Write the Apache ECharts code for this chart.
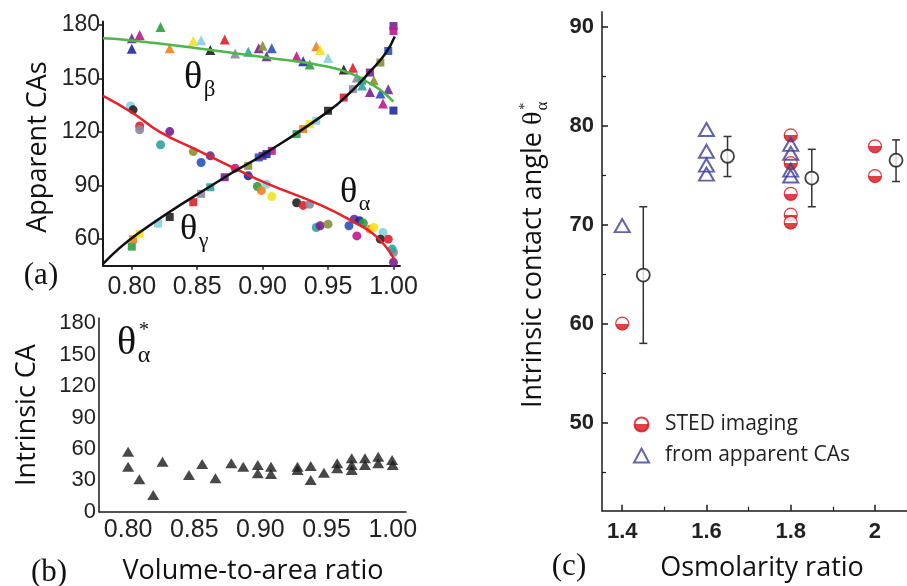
<!DOCTYPE html>
<html>
<head>
<meta charset="utf-8">
<script src="https://cdn.jsdelivr.net/npm/echarts@6/dist/echarts.min.js"></script>
<style>
  html, body { margin: 0; padding: 0; background: #fff; }
  #chart { width: 907px; height: 586px; }
</style>
</head>
<body>
<div id="chart"></div>
<script>
// ---- Panel (a): apparent contact angles vs volume-to-area ratio
const thetaBeta = [
  [0.800, 172.5], [0.806, 174.4], [0.800, 166.6], [0.822, 178.8], [0.829, 167],
  [0.847, 171], [0.853, 171.4], [0.860, 165.9], [0.871, 171.8], [0.879, 164],
  [0.889, 165], [0.897, 167], [0.900, 168.3], [0.907, 167], [0.903, 162.4],
  [0.926, 162.4], [0.931, 159.6], [0.936, 157.8], [0.941, 168], [0.944, 166],
  [0.950, 161.5], [0.962, 155], [0.969, 156], [0.972, 150.5], [0.976, 146],
  [0.982, 142.4], [0.985, 149], [0.990, 141.5], [0.996, 144], [0.992, 136]
];
const thetaGamma = [
  [0.800, 55.7], [0.801, 59.8], [0.806, 62.9], [0.820, 68.6], [0.829, 72.3],
  [0.847, 80.6], [0.853, 85.3], [0.860, 89], [0.871, 94.6], [0.889, 101],
  [0.897, 105.7], [0.900, 106.6], [0.907, 109.4], [0.903, 107.6], [0.926, 118.8],
  [0.931, 121.6], [0.936, 124.4], [0.941, 126.3], [0.950, 131.9], [0.962, 139.3],
  [0.969, 144], [0.976, 148.7], [0.982, 153.3], [0.990, 158.9], [0.996, 165.4],
  [1.000, 179.4], [1.000, 176.6], [1.000, 132]
];
const thetaAlpha = [
  [0.799, 134.6], [0.801, 132.4], [0.806, 123.4], [0.806, 121.2], [0.822, 112.8],
  [0.829, 120.2], [0.847, 109], [0.853, 102.9], [0.860, 106.6], [0.879, 99.7],
  [0.889, 95.4], [0.896, 89.4], [0.899, 87.2], [0.907, 83.8], [0.903, 90.7],
  [0.926, 80.3], [0.931, 78.8], [0.936, 79.4], [0.941, 66.4], [0.944, 67.4],
  [0.950, 68.3], [0.966, 67.4], [0.970, 71.1], [0.972, 61.7], [0.974, 70.2],
  [0.977, 68.9], [0.982, 65.5], [0.985, 66.4], [0.992, 63.6], [0.990, 59.9],
  [0.996, 59.9], [1.000, 52.4], [0.999, 54.3], [1.000, 46.9]
];
// fitted curves
const fitBeta = [[0.778, 172.5], [0.80, 171.3], [0.85, 167], [0.90, 162], [0.95, 156.6], [0.97, 152], [0.98, 148], [0.99, 143.5], [1.0, 137]];
const fitAlpha = [[0.778, 140.2], [0.801, 130.5], [0.821, 120.2], [0.85, 109.8], [0.881, 98.7], [0.903, 91.2], [0.944, 79.1], [0.969, 69.7], [0.987, 61.3], [1.001, 48.2]];
const fitGamma = [[0.778, 46], [0.805, 63.2], [0.872, 95], [0.900, 107.1], [0.950, 131.4], [0.969, 143.6], [0.982, 153.8], [0.994, 164.1], [1.001, 173.5]];
const ticksA_x = [0.80, 0.85, 0.90, 0.95, 1.00];
const ticksA_y = [60, 90, 120, 150, 180];

// ---- Panel (b): intrinsic contact angle
const intrinsicB = [
  [0.800, 57.3], [0.800, 43], [0.8085, 31], [0.819, 16], [0.826, 47.8],
  [0.846, 35], [0.856, 45.6], [0.866, 31.9], [0.878, 46.2], [0.887, 43],
  [0.898, 44.6], [0.898, 36.7], [0.908, 43], [0.908, 36], [0.928, 43],
  [0.928, 39.8], [0.938, 43.6], [0.938, 30.3], [0.948, 37.3], [0.958, 46.2],
  [0.958, 41.4], [0.969, 51], [0.969, 44.6], [0.969, 39.8], [0.979, 51],
  [0.979, 44.6], [0.989, 52.6], [0.989, 46.2], [0.9995, 49.4], [1.000, 44.6]
];
const ticksB_y = [0, 30, 60, 90, 120, 150, 180];

// ---- Panel (c): intrinsic contact angle vs osmolarity ratio
const stedImaging = [[1.4, 60], [1.8, 79], [1.8, 76.2], [1.8, 73.1], [1.8, 71], [1.8, 70.2], [2.0, 77.9], [2.0, 74.9]];
const fromApparent = [[1.4, 69.9], [1.6, 79.6], [1.6, 77.4], [1.6, 76], [1.6, 75.1], [1.8, 78.1], [1.8, 77.2], [1.8, 75.5], [1.8, 74.9]];
const meanX = [1.45, 1.65, 1.85, 2.05];
const meanY = [64.9, 76.9, 74.7, 76.5];
const errLow = [58, 74.85, 71.8, 74.35];
const errHigh = [71.8, 78.9, 77.6, 78.55];
const ticksC_x = [1.4, 1.6, 1.8, 2.0];
const minorC_x = [1.5, 1.7, 1.9];
const ticksC_y = [50, 60, 70, 80, 90];
const minorC_y = [45, 55, 65, 75, 85];

const palette = ['#6a2c91', '#c2188b', '#1f2a9c', '#2e9e3e', '#f08024', '#f2e21a', '#86d2dc',
  '#222222', '#e0202e', '#8a8aa0', '#2fa3a0', '#7a1f8f', '#8b8f3a', '#2b4fc4'];
const ink = '#1a1a1a';
const sans = 'Liberation Sans';
const title = 'Open Sans';
const serif = 'Liberation Serif';
const stedRed = '#d4141c';
const triBlue = '#3c3c96';

const chart = echarts.init(document.getElementById('chart'));

// width of a text, for placing the sub/superscripts after the rotated label
const measure = (text, font) => {
  const ctx = document.createElement('canvas').getContext('2d');
  ctx.font = font;
  return ctx.measureText(text).width;
};

const axisLine = (w) => ({ show: true, onZero: false, lineStyle: { color: ink, width: w } });
const noSplit = { show: false };

const xA = {
  gridIndex: 0, type: 'value', min: 0.778, max: 1.005,
  axisLine: axisLine(2), splitLine: noSplit,
  axisTick: { show: true, customValues: ticksA_x, length: 4, lineStyle: { color: ink, width: 1.5 } },
  axisLabel: { customValues: ticksA_x, formatter: (v) => v.toFixed(2), fontFamily: sans, fontSize: 25, color: '#222', margin: 9 }
};
const yA = {
  gridIndex: 0, type: 'value', min: 45, max: 182,
  axisLine: axisLine(2), splitLine: noSplit,
  axisTick: { show: true, customValues: ticksA_y, length: 4, lineStyle: { color: ink, width: 1.5 } },
  axisLabel: { customValues: ticksA_y, fontFamily: sans, fontSize: 23, color: '#222', margin: 3 }
};
const xB = {
  gridIndex: 1, type: 'value', min: 0.778, max: 1.01,
  axisLine: axisLine(1.5), splitLine: noSplit,
  axisTick: { show: false },
  axisLabel: { customValues: ticksA_x, formatter: (v) => v.toFixed(2), fontFamily: sans, fontSize: 25, color: '#222', margin: 6 }
};
const yB = {
  gridIndex: 1, type: 'value', min: 0, max: 185,
  axisLine: axisLine(1.5), splitLine: noSplit,
  axisTick: { show: false },
  axisLabel: { customValues: ticksB_y, fontFamily: sans, fontSize: 22, color: '#222', margin: 3 }
};
const xC = {
  gridIndex: 2, type: 'value', min: 1.352, max: 2.076,
  axisLine: axisLine(1.5), splitLine: noSplit,
  axisTick: { show: true, inside: true, customValues: ticksC_x, length: 6, lineStyle: { color: ink, width: 1.5 } },
  axisLabel: { customValues: ticksC_x, formatter: (v) => (v === 2 ? '2' : v.toFixed(1)), fontFamily: sans, fontWeight: 'bold', fontSize: 22, color: '#222', margin: 10 }
};
const xCminor = {
  gridIndex: 2, type: 'value', min: 1.352, max: 2.076, position: 'bottom',
  axisLine: { show: false }, splitLine: noSplit, axisLabel: { show: false },
  axisTick: { show: true, inside: true, customValues: minorC_x, length: 4, lineStyle: { color: ink, width: 1.2 } }
};
const yC = {
  gridIndex: 2, type: 'value', min: 41.1, max: 91.5,
  axisLine: axisLine(1.5), splitLine: noSplit,
  axisTick: { show: true, inside: true, customValues: ticksC_y, length: 6, lineStyle: { color: ink, width: 1.5 } },
  axisLabel: { customValues: ticksC_y, fontFamily: sans, fontWeight: 'bold', fontSize: 22, color: '#222', margin: 8 }
};
const yCminor = {
  gridIndex: 2, type: 'value', min: 41.1, max: 91.5, position: 'left',
  axisLine: { show: false }, splitLine: noSplit, axisLabel: { show: false },
  axisTick: { show: true, inside: true, customValues: minorC_y, length: 4, lineStyle: { color: ink, width: 1.2 } }
};

const pointColor = (p) => palette[p.dataIndex % palette.length];

// error bars of the mean values in panel (c)
const errorBars = meanX.map((x, i) => [x, errLow[i], errHigh[i]]);
const renderErrorBar = (params, api) => {
  const lo = api.coord([api.value(0), api.value(1)]);
  const hi = api.coord([api.value(0), api.value(2)]);
  const cap = 4;
  const style = { stroke: '#333', lineWidth: 1.5 };
  return {
    type: 'group',
    children: [
      { type: 'line', shape: { x1: lo[0], y1: lo[1], x2: hi[0], y2: hi[1] }, style },
      { type: 'line', shape: { x1: lo[0] - cap, y1: lo[1], x2: lo[0] + cap, y2: lo[1] }, style },
      { type: 'line', shape: { x1: hi[0] - cap, y1: hi[1], x2: hi[0] + cap, y2: hi[1] }, style }
    ]
  };
};

const stedFill = new echarts.graphic.LinearGradient(0, 0, 0, 1, [
  { offset: 0, color: stedRed }, { offset: 0.12, color: '#ffffff' },
  { offset: 0.5, color: '#ffffff' }, { offset: 0.5, color: stedRed }, { offset: 1, color: stedRed }
]);

// sub/superscripted theta labels
const thetaLabel = (x, y, sub, size, sup) => {
  const els = [
    { type: 'text', x: x, y: y, style: { text: 'θ', font: size + 'px ' + serif, fill: '#111', textAlign: 'left', textVerticalAlign: 'middle' } },
    { type: 'text', x: x + size * 0.52, y: y + size * 0.32, style: { text: sub, font: Math.round(size * 0.6) + 'px ' + serif, fill: '#111', textAlign: 'left', textVerticalAlign: 'middle' } }
  ];
  if (sup) {
    els.push({ type: 'text', x: x + size * 0.55, y: y - size * 0.3, style: { text: sup, font: Math.round(size * 0.5) + 'px ' + serif, fill: '#111', textAlign: 'left', textVerticalAlign: 'middle' } });
  }
  return els;
};

const titleFont = '27px "' + title + '"';
const cTitle = 'Intrinsic contact angle';
const cTitleW = measure(cTitle, titleFont);

const option = {
  animation: false,
  backgroundColor: '#fff',
  grid: [
    { left: 103, top: 21.4, width: 297, height: 244.3, containLabel: false, outerBoundsMode: 'none' },
    { left: 99, top: 318, width: 307, height: 193.7, containLabel: false, outerBoundsMode: 'none' },
    { left: 602, top: 11.7, width: 305, height: 499, containLabel: false, outerBoundsMode: 'none' }
  ],
  xAxis: [xA, xB, xC, xCminor],
  yAxis: [yA, yB, yC, yCminor],
  legend: {
    left: 628, top: 409, orient: 'vertical', itemGap: 10,
    itemWidth: 15, itemHeight: 14,
    textStyle: { fontFamily: title, fontSize: 21, color: '#222', padding: [0, 0, 0, 11] },
    data: ['STED imaging', 'from apparent CAs']
  },
  series: [
    { type: 'line', xAxisIndex: 0, yAxisIndex: 0, data: fitBeta, smooth: true, symbol: 'none', lineStyle: { color: '#4cb848', width: 2.5 }, z: 3 },
    { type: 'line', xAxisIndex: 0, yAxisIndex: 0, data: fitAlpha, smooth: true, symbol: 'none', lineStyle: { color: '#e8202a', width: 2.5 }, z: 3 },
    { type: 'line', xAxisIndex: 0, yAxisIndex: 0, data: fitGamma, smooth: true, symbol: 'none', lineStyle: { color: '#111', width: 2.5 }, z: 3 },
    { type: 'scatter', xAxisIndex: 0, yAxisIndex: 0, data: thetaBeta, symbol: 'triangle', symbolSize: 10, itemStyle: { color: pointColor, opacity: 0.9 }, z: 2 },
    { type: 'scatter', xAxisIndex: 0, yAxisIndex: 0, data: thetaGamma, symbol: 'rect', symbolSize: 8, itemStyle: { color: (p) => palette[(p.dataIndex + 3) % palette.length], opacity: 0.9 }, z: 2 },
    { type: 'scatter', xAxisIndex: 0, yAxisIndex: 0, data: thetaAlpha, symbol: 'circle', symbolSize: 9, itemStyle: { color: (p) => palette[(p.dataIndex + 6) % palette.length], opacity: 0.9 }, z: 2 },

    { type: 'scatter', xAxisIndex: 1, yAxisIndex: 1, data: intrinsicB, symbol: 'triangle', symbolSize: [12, 10], itemStyle: { color: '#1a1a1a' } },

    { type: 'custom', xAxisIndex: 2, yAxisIndex: 2, data: errorBars, renderItem: renderErrorBar, encode: { x: 0, y: [1, 2] }, z: 2 },
    { type: 'scatter', name: 'mean', xAxisIndex: 2, yAxisIndex: 2, data: meanX.map((x, i) => [x, meanY[i]]), symbol: 'circle', symbolSize: 13, itemStyle: { color: '#fff', borderColor: '#111', borderWidth: 1.8 }, z: 3 },
    { type: 'scatter', name: 'STED imaging', xAxisIndex: 2, yAxisIndex: 2, data: stedImaging, symbol: 'circle', symbolSize: 13, itemStyle: { color: stedFill, borderColor: stedRed, borderWidth: 1.2 }, z: 4 },
    { type: 'scatter', name: 'from apparent CAs', xAxisIndex: 2, yAxisIndex: 2, data: fromApparent, symbol: 'triangle', symbolSize: [15, 13], itemStyle: { color: 'rgba(255,255,255,0)', borderColor: triBlue, borderWidth: 2 }, z: 5 }
  ],
  graphic: [
    // axis titles
    { type: 'text', x: 38, y: 147, rotation: Math.PI / 2, style: { text: 'Apparent CAs', font: titleFont, fill: '#111', textAlign: 'center', textVerticalAlign: 'middle' } },
    { type: 'text', x: 27, y: 415, rotation: Math.PI / 2, style: { text: 'Intrinsic CA', font: titleFont, fill: '#111', textAlign: 'center', textVerticalAlign: 'middle' } },
    { type: 'text', x: 253, y: 571, style: { text: 'Volume-to-area ratio', font: titleFont, fill: '#111', textAlign: 'center', textVerticalAlign: 'middle' } },
    { type: 'text', x: 762, y: 568, style: { text: 'Osmolarity ratio', font: titleFont, fill: '#111', textAlign: 'center', textVerticalAlign: 'middle' } },
    {
      type: 'group', x: 533, y: 408, rotation: Math.PI / 2,
      children: [
        { type: 'text', x: 0, y: 0, style: { text: cTitle, font: titleFont, fill: '#111', textAlign: 'left', textVerticalAlign: 'middle' } }
      ].concat(thetaLabel(cTitleW + 7, 1, 'α', 28, '*'))
    },
    // panel letters
    { type: 'text', x: 41, y: 276, style: { text: '(a)', font: '31px "' + serif + '"', fill: '#111', textAlign: 'center', textVerticalAlign: 'middle' } },
    { type: 'text', x: 49, y: 573, style: { text: '(b)', font: '31px "' + serif + '"', fill: '#111', textAlign: 'center', textVerticalAlign: 'middle' } },
    { type: 'text', x: 569, y: 567, style: { text: '(c)', font: '31px "' + serif + '"', fill: '#111', textAlign: 'center', textVerticalAlign: 'middle' } }
  ]
    .concat(thetaLabel(184, 78, 'β', 38))
    .concat(thetaLabel(180, 230, 'γ', 36))
    .concat(thetaLabel(340, 193, 'α', 36))
    .concat(thetaLabel(117, 343, 'α', 40, '*'))
};

chart.setOption(option);
</script>
</body>
</html>
